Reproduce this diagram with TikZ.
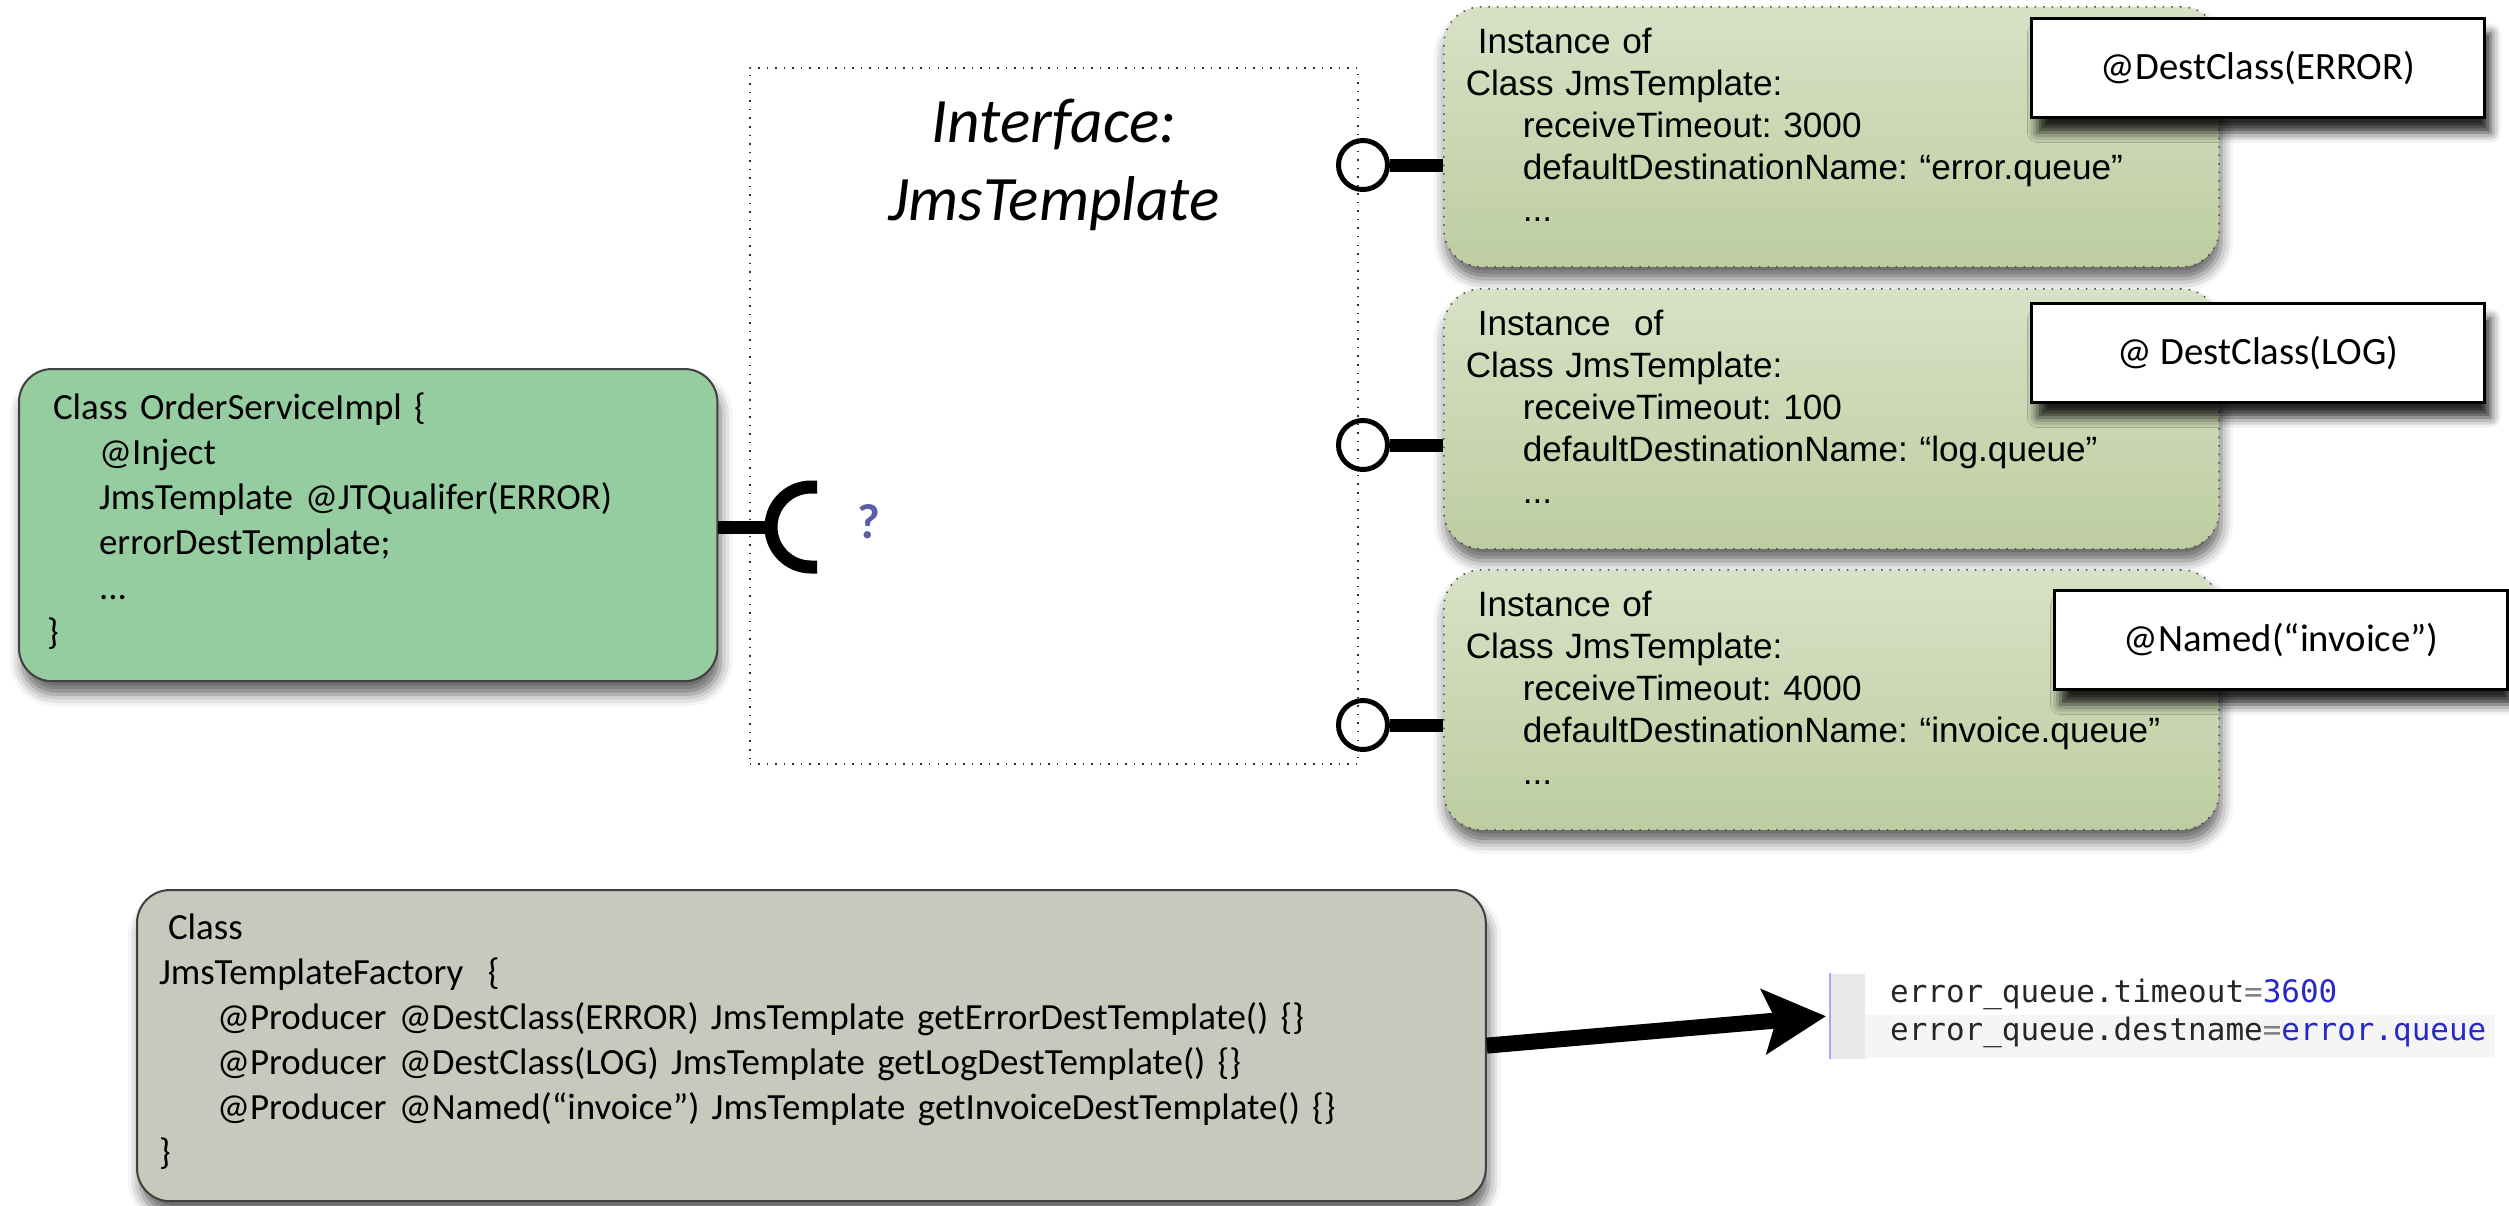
\documentclass[tikz,border=0pt]{standalone}
\usepackage{fontspec}
\usepackage{tikz}
\usetikzlibrary{arrows.meta,shadows.blur}
\newfontfamily\calibri{Carlito}
\newfontfamily\arialfont{Liberation Sans}
\newfontfamily\propfont{DejaVu Sans Mono}
\definecolor{ordergreen}{RGB}{150,205,160}
\definecolor{instgreen}{RGB}{190,205,160}
\definecolor{factorygray}{RGB}{200,200,188}
\definecolor{questblue}{RGB}{91,94,166}
\definecolor{propblue}{RGB}{40,40,200}
\frenchspacing
\tikzset{
  codebox/.style={draw=black!75, line width=0.02cm, rounded corners=0.33cm, anchor=north west, align=left, inner ysep=0pt,
    font=\calibri\fontsize{10.5}{12.8}\selectfont,
    blur shadow={shadow xshift=0.03cm, shadow yshift=-0.13cm, shadow blur radius=0.12cm, shadow opacity=60}},
  instbox/.style={draw=black!70, dotted, line width=0.015cm, top color=instgreen!60!white, middle color=instgreen, bottom color=instgreen,
    rounded corners=0.38cm, anchor=north west, align=left,
    inner xsep=0.22cm, inner ysep=0pt, text width=7.31cm, text height=0.47cm, text depth=2.13cm,
    font=\arialfont\fontsize{10}{11.9}\selectfont,
    blur shadow={shadow xshift=0.02cm, shadow yshift=-0.12cm, shadow blur radius=0.12cm, shadow opacity=60}},
  tagbox/.style={draw=black, line width=0.03cm, fill=white, minimum width=4.53cm, minimum height=0.99cm,
    font=\calibri\fontsize{11}{13}\selectfont,
    blur shadow={shadow xshift=0.06cm, shadow yshift=-0.15cm, shadow blur radius=0.1cm, shadow opacity=85}},
  lolly/.style={circle, draw=black, line width=0.05cm, minimum size=0.49cm, inner sep=0pt},
  stem/.style={line width=0.13cm}
}
\begin{document}
\begin{tikzpicture}[x=0.01cm,y=-0.01cm]
\useasboundingbox (0,0) rectangle (2509,1205);

\node[codebox, fill=ordergreen, text width=6.42cm, inner xsep=0.28cm, text height=0.50cm, text depth=2.62cm] (client) at (18,368)
  {\hspace*{0.06cm}Class OrderServiceImpl \{\\
   \hspace*{0.52cm}@Inject\\
   \hspace*{0.52cm}JmsTemplate @JTQualifer(ERROR)\\
   \hspace*{0.52cm}errorDestTemplate;\\
   \hspace*{0.52cm}...\\
   \}};

\node[draw=black!80, dotted, line width=0.015cm, anchor=north west, inner sep=0pt, text width=6.08cm, align=center,
  text height=0.75cm, text depth=6.21cm, font=\calibri\itshape\fontsize{18}{22.1}\selectfont] (iface) at (749,67)
  {Interface:\\JmsTemplate};

\coordinate (sock) at (771,527);
\draw[stem] (client.east |- sock) -- (sock);
\draw[stem] ([shift={(46,-40)}]sock) -- ++(-6,0) arc[start angle=270, end angle=90, radius=40] -- ++(6,0);
\node[text=questblue, font=\calibri\bfseries\fontsize{14}{16}\selectfont] (quest) at (869,522) {?};

\node[instbox] (inst1) at (1443,6)
  {\hspace*{0.12cm}Instance of\\
   Class JmsTemplate:\\
   \hspace*{0.57cm}receiveTimeout: 3000\\
   \hspace*{0.57cm}\mbox{defaultDestinationName: “error.queue”}\\
   \hspace*{0.57cm}...};
\node[instbox] (inst2) at (1443,288)
  {\hspace*{0.12cm}Instance\ \ of\\
   Class JmsTemplate:\\
   \hspace*{0.57cm}receiveTimeout: 100\\
   \hspace*{0.57cm}\mbox{defaultDestinationName: “log.queue”}\\
   \hspace*{0.57cm}...};
\node[instbox] (inst3) at (1443,569)
  {\hspace*{0.12cm}Instance of\\
   Class JmsTemplate:\\
   \hspace*{0.57cm}receiveTimeout: 4000\\
   \hspace*{0.57cm}\mbox{defaultDestinationName: “invoice.queue”}\\
   \hspace*{0.57cm}...};

\node[tagbox] (tag1) at (2258,68) {@DestClass(ERROR)};
\node[tagbox] (tag2) at (2258,353) {@ DestClass(LOG)};
\node[tagbox] (tag3) at (2281,640) {@Named(“invoice”)};

\node[lolly] (lol1) at (1363,165) {};
\node[lolly] (lol2) at (1363,445) {};
\node[lolly] (lol3) at (1363,725) {};
\draw[stem] (lol1.east) -- (lol1.east -| inst1.west);
\draw[stem] (lol2.east) -- (lol2.east -| inst2.west);
\draw[stem] (lol3.east) -- (lol3.east -| inst3.west);

\node[codebox, fill=factorygray, text width=13.04cm, inner xsep=0.22cm, text height=0.49cm, text depth=2.62cm] (factory) at (136,889)
  {\hspace*{0.09cm}Class\\
   JmsTemplateFactory\ \ \{\\
   \hspace*{0.58cm}@Producer @DestClass(ERROR) JmsTemplate getErrorDestTemplate() \{\}\\
   \hspace*{0.58cm}@Producer @DestClass(LOG) JmsTemplate getLogDestTemplate() \{\}\\
   \hspace*{0.58cm}@Producer @Named(“invoice”) JmsTemplate getInvoiceDestTemplate() \{\}\\
   \}};

\fill[black!4] (1864,1015) rectangle (2495,1058);
\node[fill=black!9, minimum width=0.34cm, minimum height=0.85cm, inner sep=0pt, anchor=north west] (props) at (1830,973) {};
\draw[blue!35, line width=0.02cm] (props.north west) -- (props.south west);
\node[anchor=north west, inner xsep=0.24cm, inner ysep=0pt, align=left, text width=6.2cm, text height=0.29cm,
  font=\propfont\fontsize{8.8}{10.8}\selectfont, text=black!85] (proptext) at (props.north east)
  {error\_queue.timeout{\color{gray}=}{\color{propblue}3600}\\
   error\_queue.destname{\color{gray}=}{\color{propblue}error.queue}};

\draw[line width=0.16cm, -{Stealth[length=0.62cm, width=0.64cm, inset=0.12cm]}] (factory.east) -- ([xshift=-0.04cm]props.west);
\end{tikzpicture}
\end{document}
